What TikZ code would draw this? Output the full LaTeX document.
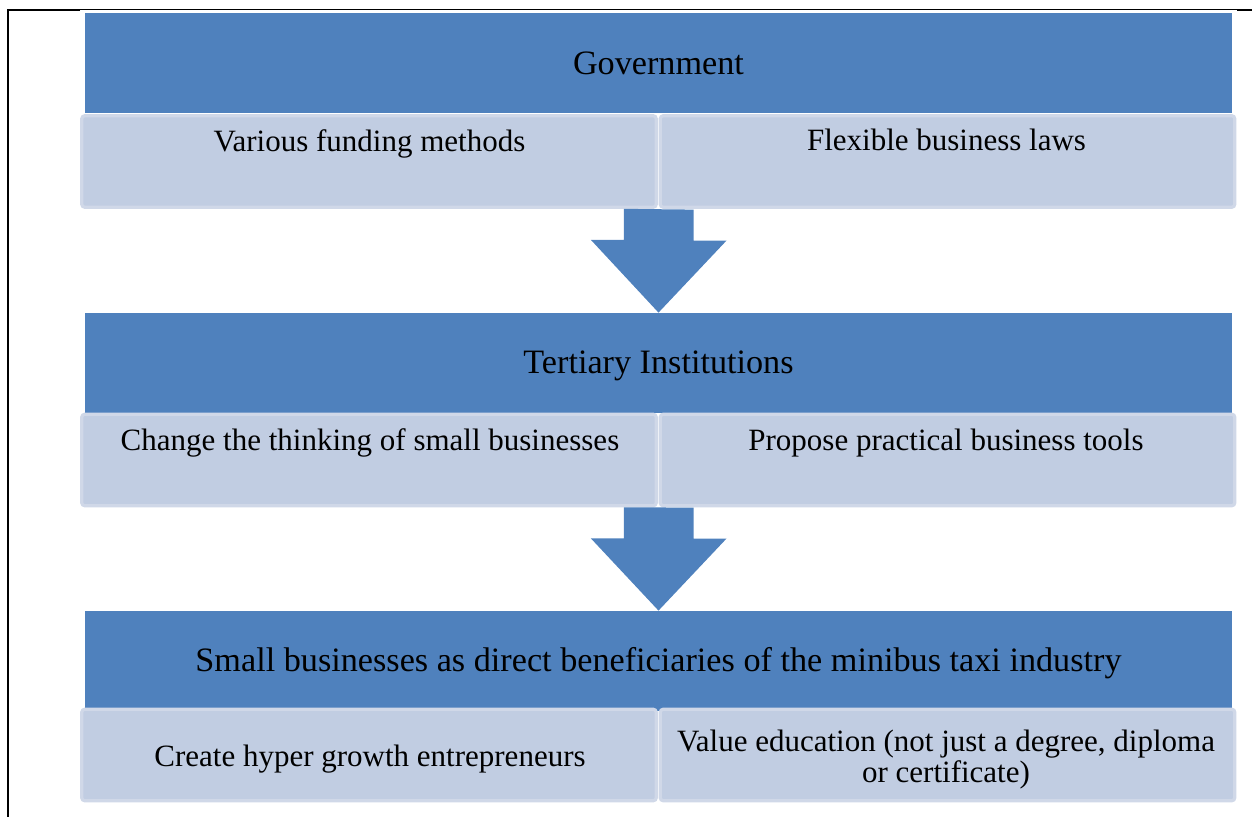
\documentclass[tikz,border=0pt]{standalone}
\usepackage{fontspec}
\setmainfont{Liberation Serif}
\usetikzlibrary{positioning}
\definecolor{headblue}{HTML}{4F81BD}
\definecolor{subfill}{HTML}{C1CDE2}
\definecolor{subline}{HTML}{D0D8E8}
\tikzset{
  head/.style={fill=headblue,minimum width=573.5pt,minimum height=50pt,inner sep=0pt,text height=12.8pt,text depth=2.2pt,font=\fontsize{17.1}{20}\selectfont},
  subbox/.style={fill=subfill,draw=subline,line width=1.6pt,rounded corners=1.5pt,minimum width=287.25pt,minimum height=45.75pt,inner sep=0pt},
  subtext/.style={font=\fontsize{15.5}{15.5}\selectfont,align=center,inner sep=0pt,text height=6.8pt,text depth=2.2pt},
  flow/.style={fill=headblue}
}
\begin{document}
\begin{tikzpicture}[x=0.5pt,y=-0.5pt]
\useasboundingbox (0,0) rectangle (1252,817);
% frame
\draw[line width=0.5pt] (80,10)--(1237,10);
\draw[line width=1pt] (80,10)-|(8,817);
\draw[line width=1pt] (1237,10)--(1252,10);
% government
\node[head] (gov) at (658.5,63.5) {Government};
\node[subbox] (gov-l) at (369,161.5) {};
\node[subbox] (gov-r) at (947.5,161.5) {};
\node[subtext] (gov-lt) at (369.5,147) {Various funding methods};
\node[subtext] (gov-rt) at (946.5,146) {Flexible business laws};
% tertiary
\node[head] (tert) at (658.5,363) {Tertiary Institutions};
\node[subbox] (tert-l) at (369,460) {};
\node[subbox] (tert-r) at (947.5,460) {};
\node[subtext] (tert-lt) at (370,446) {Change the thinking of small businesses};
\node[subtext] (tert-rt) at (946,446) {Propose practical business tools};
% small businesses
\node[head] (small) at (658.5,661) {Small businesses as direct beneficiaries of the minibus taxi industry};
\node[subbox] (small-l) at (369,755) {};
\node[subbox] (small-r) at (947.5,755) {};
\node[subtext] (small-lt) at (370,762) {Create hyper growth entrepreneurs};
\node[subtext] (small-rt) at (946,778) {Value education (not just a degree, diploma\\or certificate)};
% arrows
\fill[flow] (gov-l.south east) ++(-34,0) -- ++(0,31) -- ++(-33,0) -- (tert.north) -- ++(68,-72) -- ++(-33,0) -- ++(0,-31) -- cycle;
\fill[flow] (tert-l.south east) ++(-34,0) -- ++(0,31) -- ++(-33,0) -- (small.north) -- ++(68,-72) -- ++(-33,0) -- ++(0,-31) -- cycle;
\end{tikzpicture}
\end{document}
